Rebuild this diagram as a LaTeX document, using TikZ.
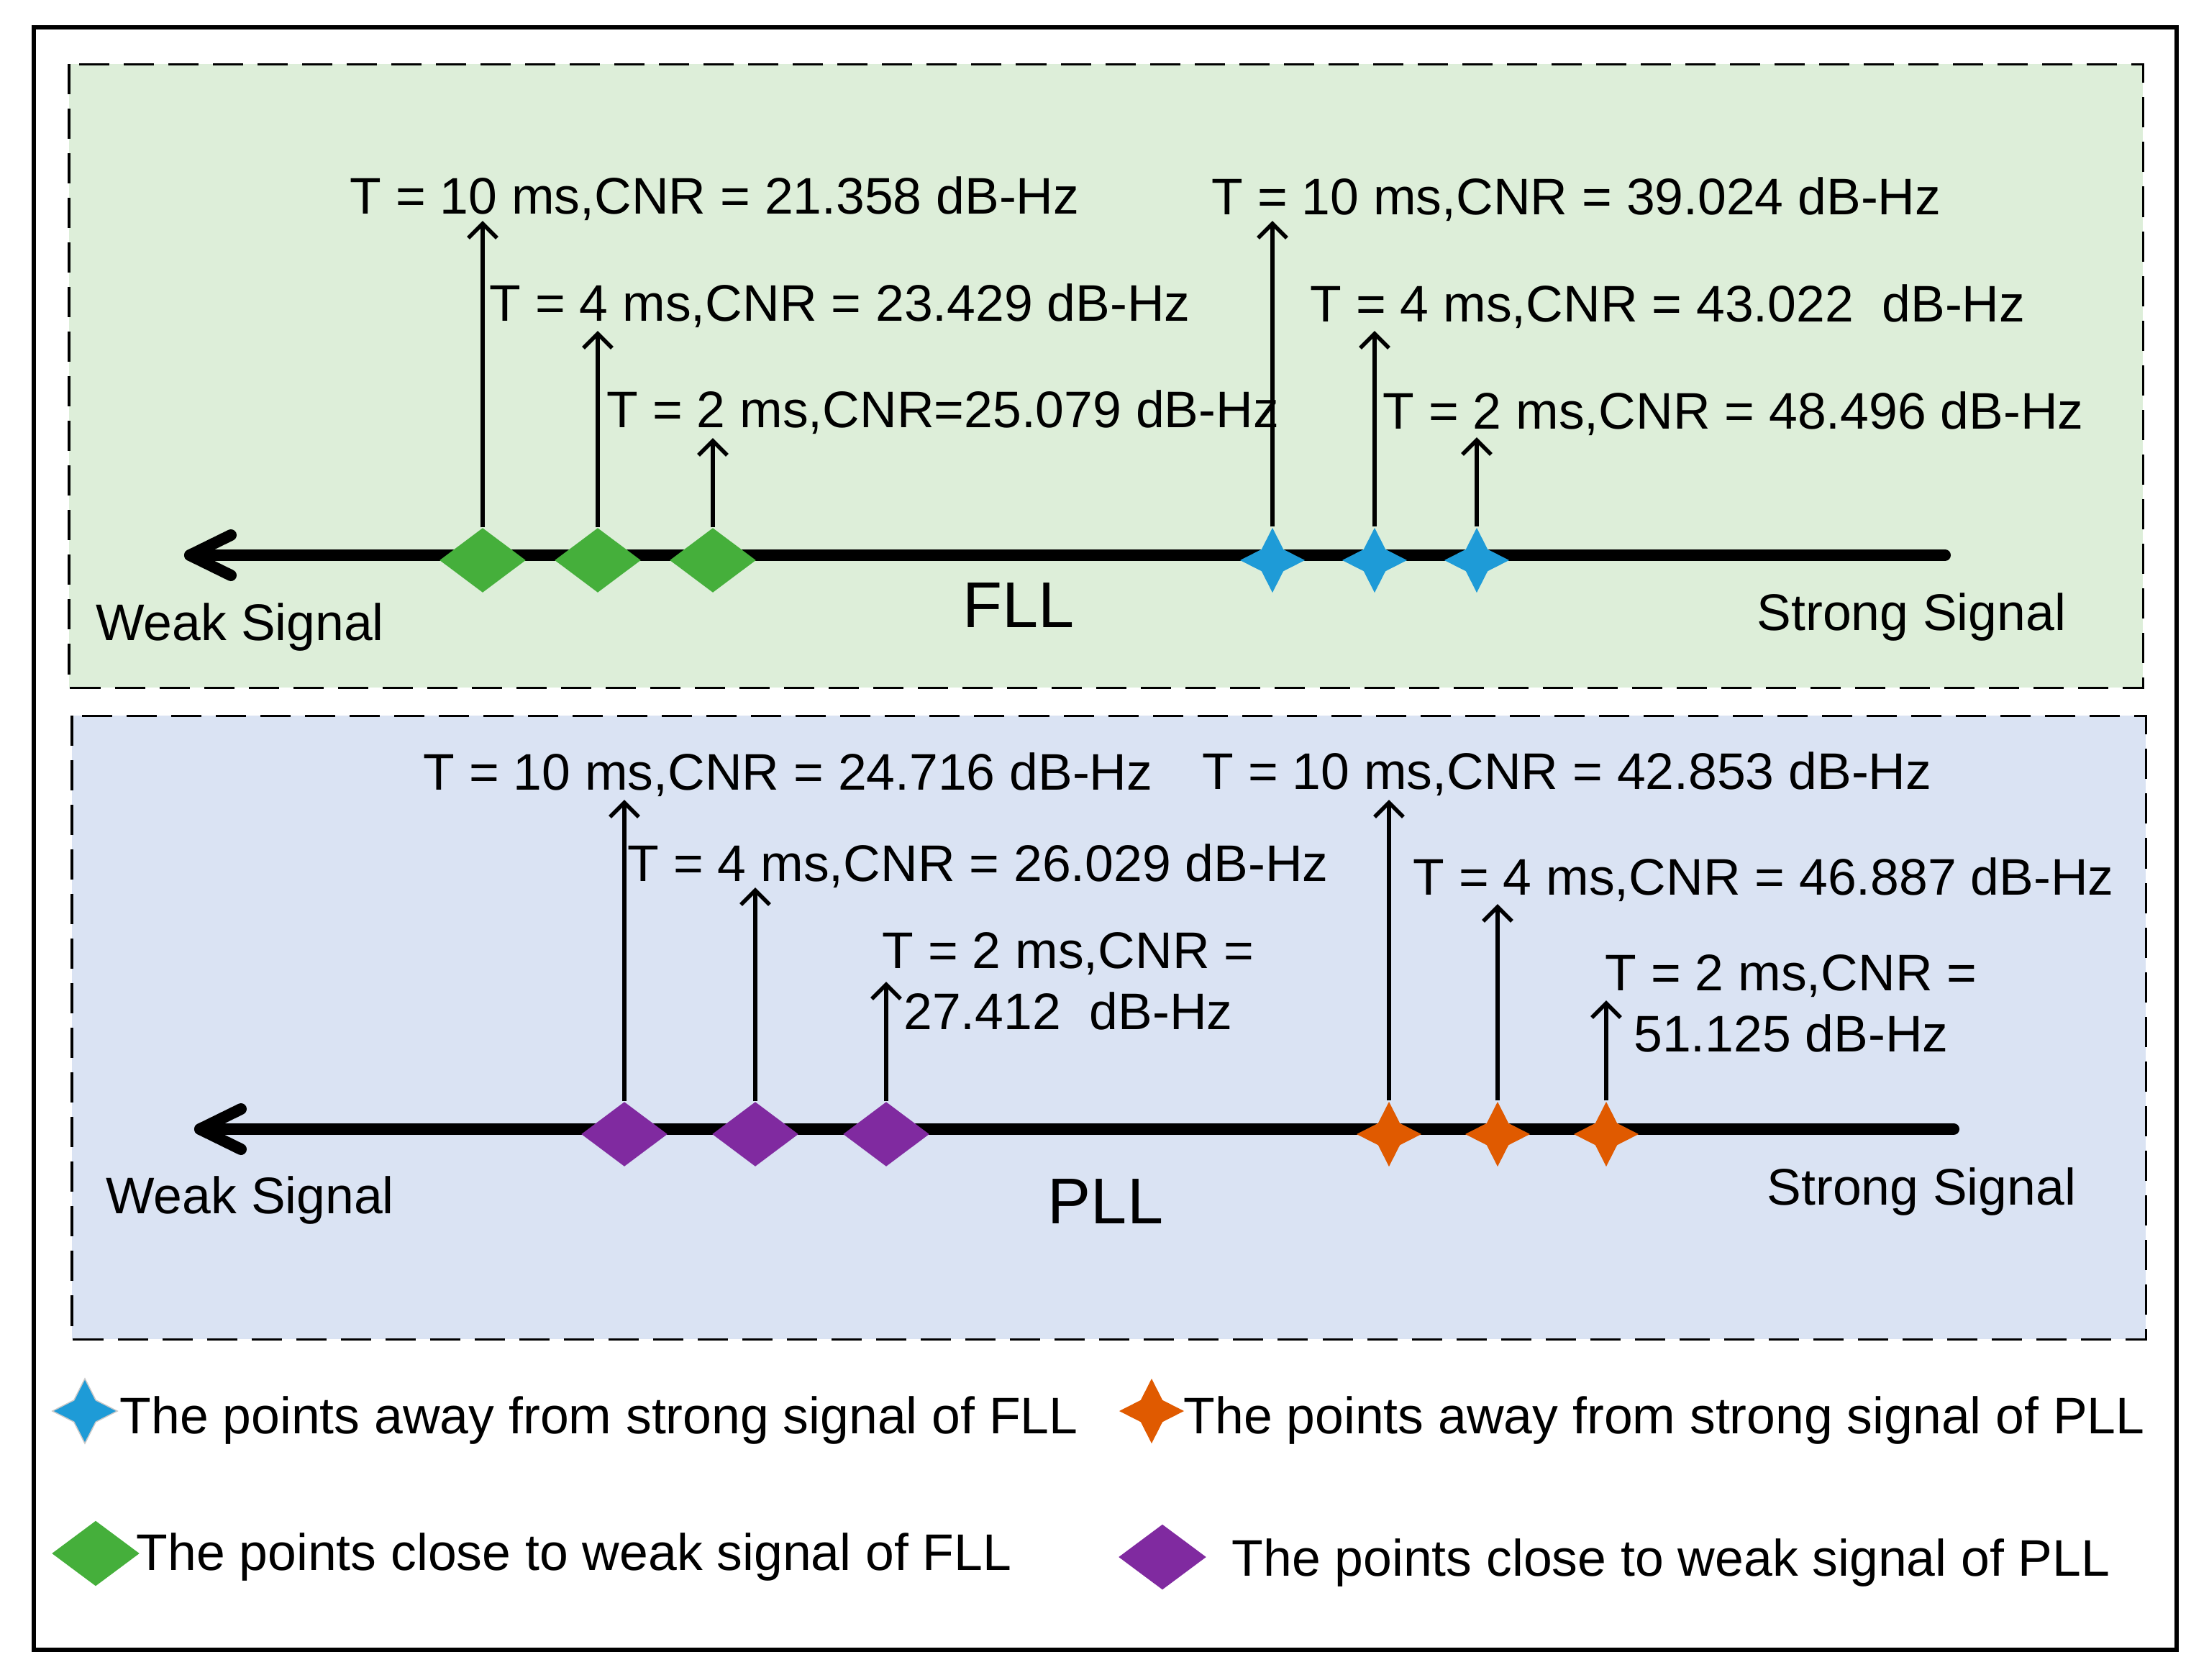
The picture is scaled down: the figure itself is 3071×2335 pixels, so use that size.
\documentclass[tikz,border=0pt]{standalone}
\usepackage{fontspec}
\setmainfont{Liberation Sans}
\usetikzlibrary{shapes.geometric,arrows.meta}
\definecolor{fllbg}{RGB}{221,238,217}
\definecolor{pllbg}{RGB}{218,227,243}
\definecolor{dgreen}{RGB}{69,175,59}
\definecolor{sblue}{RGB}{30,155,215}
\definecolor{sorange}{RGB}{224,90,0}
\definecolor{dpurple}{RGB}{128,42,160}
\definecolor{lgray}{RGB}{200,200,200}
\tikzset{
  lbl/.style={font=\fontsize{20.34pt}{24.2pt}\selectfont, inner sep=0pt, anchor=base west},
  lbl2/.style={font=\fontsize{20.34pt}{24.2pt}\selectfont, inner sep=0pt, anchor=center, align=center},
  big/.style={font=\fontsize{25.6pt}{30pt}\selectfont, inner sep=0pt},
  dia/.style={diamond, draw=none, inner sep=0pt, minimum width=1.2cm, minimum height=0.9cm},
  star4/.style={star, star points=4, star point ratio=2.1, draw=none, inner sep=0pt, minimum size=0.9cm},
  axisline/.style={line width=0.16cm, line cap=round, line join=round},
  tick/.style={line width=0.055cm, -{Straight Barb[length=0.2cm,width=0.4cm]}},
  panel/.style={line width=0.03cm, dash pattern=on 0.42cm off 0.2cm},
}
\begin{document}
\begin{tikzpicture}[x=0.01cm,y=-0.01cm]
\useasboundingbox (0,0) rectangle (3071,2335);
\draw[line width=0.06cm] (47,38) rectangle (3026,2294);
\draw[panel, fill=fllbg] (96,89) rectangle (2979,956);
\draw[panel, fill=pllbg] (100,995) rectangle (2983,1862);

% ---------- FLL ----------
\coordinate (fllL) at (264,772);
\coordinate (fllR) at (2704,772);
\draw[axisline] (fllR) -- (fllL);
\draw[axisline] (fllL) ++(57,-28) -- (fllL) -- ++(57,28);

\node[dia, fill=dgreen] (g1) at (671,779) {};
\node[dia, fill=dgreen] (g2) at (831,779) {};
\node[dia, fill=dgreen] (g3) at (991,779) {};
\node[star4, fill=sblue] (b1) at (1769,779) {};
\node[star4, fill=sblue] (b2) at (1911,779) {};
\node[star4, fill=sblue] (b3) at (2053,779) {};

\coordinate (g1t) at (671,307);
\coordinate (g2t) at (831,460);
\coordinate (g3t) at (991,609);
\coordinate (b1t) at (1769,307);
\coordinate (b2t) at (1911,460);
\coordinate (b3t) at (2053,608);
\draw[tick] (g1.north) -- (g1t);
\draw[tick] (g2.north) -- (g2t);
\draw[tick] (g3.north) -- (g3t);
\draw[tick] (b1.north) -- (b1t);
\draw[tick] (b2.north) -- (b2t);
\draw[tick] (b3.north) -- (b3t);

\node[lbl] (lg1) at (486,297) {T = 10 ms,CNR = 21.358 dB-Hz};
\node[lbl] (lg2) at (680,446) {T = 4 ms,CNR = 23.429 dB-Hz};
\node[lbl] (lg3) at (843,594) {T = 2 ms,CNR=25.079 dB-Hz};
\node[lbl] (lb1) at (1684,298) {T = 10 ms,CNR = 39.024 dB-Hz};
\node[lbl] (lb2) at (1821,447) {T = 4 ms,CNR = 43.022~ dB-Hz};
\node[lbl] (lb3) at (1922,596) {T = 2 ms,CNR = 48.496 dB-Hz};

\node[lbl] (fweak) at (133,890) {Weak Signal};
\node[lbl] (fstrong) at (2442,876) {Strong Signal};
\node[big] (fll) at (1416,842) {FLL};

% ---------- PLL ----------
\coordinate (pllL) at (278,1570);
\coordinate (pllR) at (2716,1570);
\draw[axisline] (pllR) -- (pllL);
\draw[axisline] (pllL) ++(57,-28) -- (pllL) -- ++(57,28);

\node[dia, fill=dpurple] (p1) at (868,1577) {};
\node[dia, fill=dpurple] (p2) at (1050,1577) {};
\node[dia, fill=dpurple] (p3) at (1232,1577) {};
\node[star4, fill=sorange] (o1) at (1931,1577) {};
\node[star4, fill=sorange] (o2) at (2082,1577) {};
\node[star4, fill=sorange] (o3) at (2233,1577) {};

\coordinate (p1t) at (868,1112);
\coordinate (p2t) at (1050,1234);
\coordinate (p3t) at (1232,1365);
\coordinate (o1t) at (1931,1112);
\coordinate (o2t) at (2082,1257);
\coordinate (o3t) at (2233,1391);
\draw[tick] (p1.north) -- (p1t);
\draw[tick] (p2.north) -- (p2t);
\draw[tick] (p3.north) -- (p3t);
\draw[tick] (o1.north) -- (o1t);
\draw[tick] (o2.north) -- (o2t);
\draw[tick] (o3.north) -- (o3t);

\node[lbl] (lp1) at (588,1098) {T = 10 ms,CNR = 24.716 dB-Hz};
\node[lbl] (lp2) at (872,1225) {T = 4 ms,CNR = 26.029 dB-Hz};
\node[lbl2] (lp3) at (1485,1364) {T = 2 ms,CNR =\\27.412~ dB-Hz};
\node[lbl] (lo1) at (1671,1097) {T = 10 ms,CNR = 42.853 dB-Hz};
\node[lbl] (lo2) at (1964,1244) {T = 4 ms,CNR = 46.887 dB-Hz};
\node[lbl2] (lo3) at (2490,1395) {T = 2 ms,CNR =\\51.125 dB-Hz};

\node[lbl] (pweak) at (147,1687) {Weak Signal};
\node[lbl] (pstrong) at (2456,1675) {Strong Signal};
\node[big] (pll) at (1537,1671) {PLL};

% ---------- Legend ----------
\node[star4, fill=sblue, draw=lgray, line width=0.015cm] (legb) at (118,1962) {};
\node[lbl] (legbt) at (166,1993) {The points away from strong signal of FLL};
\node[dia, fill=dgreen, minimum width=1.22cm, minimum height=0.91cm] (legg) at (133,2160) {};
\node[lbl] (leggt) at (189,2183) {The points close to weak signal of FLL};
\node[star4, fill=sorange] (lego) at (1601,1962) {};
\node[lbl] (legot) at (1645,1993) {The points away from strong signal of PLL};
\node[dia, fill=dpurple, minimum width=1.22cm, minimum height=0.91cm] (legp) at (1616,2165) {};
\node[lbl] (legpt) at (1712,2191) {The points close to weak signal of PLL};
\end{tikzpicture}
\end{document}
